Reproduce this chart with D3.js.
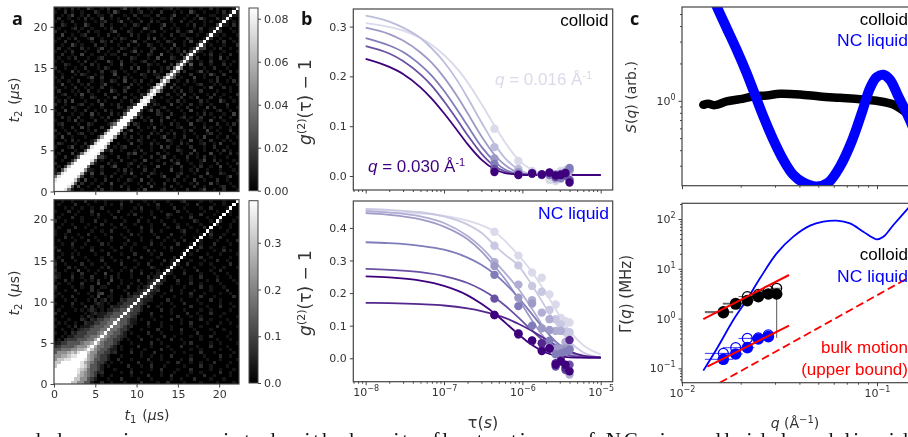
<!DOCTYPE html>
<html lang="en">
<head>
<meta charset="UTF-8">
<title>Two-time correlation and dynamics</title>
<script src="https://d3js.org/d3.v7.min.js"></script>
<style>
    html, body { margin: 0; padding: 0; background: #fff; overflow: hidden; }
    svg { display: block; filter: blur(0.45px); }
    .tick text { font: 11px "DejaVu Sans", sans-serif; fill: #333; }
    .tick line, .domain { stroke: #444; }
    .label { font: 14px "DejaVu Sans", sans-serif; fill: #333; }
    .note { font: 17px "Liberation Sans", sans-serif; }
    .tag { font: bold 18px "Open Sans", sans-serif; fill: #111; }
    .frame { fill: none; stroke: #444; stroke-width: 1.2; }
</style>
</head>
<body>
<svg width="908" height="437"></svg>
<script>
// ---- panel a: colour bars and ticks ----
const axisTicksUs = [0, 5, 10, 15, 20];
const cbarTicksTop = [0, 0.02, 0.04, 0.06, 0.08];
const cbarLabelsTop = ["0.00", "0.02", "0.04", "0.06", "0.08"];
const cbarTicksBottom = [0, 0.1, 0.2, 0.3];
const cbarLabelsBottom = ["0.0", "0.1", "0.2", "0.3"];
const cbarMaxTop = 0.085;
const cbarMaxBottom = 0.39;

// Off-diagonal speckle, levels 0-9 of the colour bar, row 0 = top of the map.
// Hand estimate of the texture: single cells are too blurred to read exactly.
const speckleTop = [
"01010201003100102000130102001010011201000100100201000010",
"10020100100021001031000101200100200010100310010001020100",
"00101300102001100200010020011002000130001002000110010001",
"02001001020100300101002001000100110200010010310002001000",
"10100200010010120001300100200201000100200100010100020010",
"00210010031000200100010021001000130010001020010003001020",
"01000120100100010200100100031000200101000010200100100100",
"20010001002011000130002100100120010002001300100010200010",
"00300100120001002001000201001000100200110001002001010001",
"01001020001300100010210001002030010010002100010200100100",
"10020001000100210200100130010001002100010300100001020010",
"00100310100020010001002001002100100030010001200100010002",
"02001000201001300100210010000120010201000100030010200100",
"10010200010002001002000130100200001001030200100100010001",
"00200100300100010110020001002100400100200010010200100200",
"01001020001001200001000210001003000210001002000100301000",
"10100001020010003100200100120010020001300100100200010010",
"00021000100201000100300010002101000200010400200100020100",
"20010010020001021000100203001000102010300100010020001000",
"01000301001000200120010010002030100010020001301000100201",
"00100010210010100030001000210011002001000200010310020000",
"10200100001300200001020100010002100130100030010002000100",
"01001002000100100210030010200100300001002010000102001020",
"00300100102000130001000201001002100020010001200010100001",
"10010020010100200100013000100200010301000100010300020100",
"02000101002001000310020001002001300010200100200001000100",
"00120010300100020001000100210100002001030010001020010002",
"10001000100210001030020010000200100100200103000200100100",
"01020300010002010000100201030010001002010000201000310010",
"20010001200100300102000100010021000300100200100100002000",
"00100210001000100002103000200100120001002001003020001001",
"10030010020010020100010020001302001000100300010001200100",
"01000100100301000201000300100002100200010001020100010030",
"00201002000100102000100010201000103000120100200010200100",
"10001030100020010010200100010300200010001002100300010001",
"01200001002100001300010021000100100201000300010002001020",
"00100200301000200100100002001030010001200010020100100100",
"20010010001020010002001300100010200100010200003001000200",
"01002001200100100310020001000201001020010010001200100010",
"10300100010002000100010200102000130010020001030001002001",
"00010201000130100200001002100010002100100300100200010100",
"02100010020001002001000300100201000100201000120010300010",
"10001300100100020010120001000100302001000200010020001000",
"00200010002010001300100010200100010002100030010001020100",
"01000301000200100100002130010002001000100201000300100201",
"10020010100100310002001000100200130010002001020010001000",
"00100200013000100100200010030001000201001000130020100010",
"20001001020010002010001200100100020013000100100002001002",
"01030010001000200130001002010003000100200010200100300100",
"10001200200100100001020100020010000300100102001000100010",
"00200010100300200010010300100210100001200010003000210001",
"01001002000100010200100010002000130002001000200100001300",
"10100100030010020001002100300100001020010030010002001000",
"00020010200100100300010001002010020001000102000301000100",
"20100003001002000100201000100300010200100020010000120010",
"01002100100010200100002001030000120010002000130010020001"
];

const speckleBottom = [
"00100100020010010000100200010010001000120000100100010000",
"01000020001000010100200001001002000100001002000010010010",
"00010100100100200000100010200001000020010000100200001000",
"10002001000200001002000100100100100002001000010001000100",
"00100010000102000100001020000100002100000100200010000100",
"01000200100001000020100000100020001000100200001000100001",
"20010000100020010000010002001000100010000021000100200010",
"00100100001000200100200010000100020001001000100002000100",
"01000020010010000010010000200100001002000100020000100100",
"10002000000100100200001000100200100000120001000100001000",
"10010001002000010000100201000010000200010000100200010010",
"00020100100010000200010000100002001000100010000100200000",
"01000010002001000100002000100100010010020000100001001002",
"00100200010000201000010010000200100002000100100020000100",
"10000100100100000100200100010000010200001000200100010000",
"02000010000200100010000100002010000100010002000010020100",
"00100101000010002000100020000100200000100100001000100001",
"01000200010000100100002000200001000020010000200100000100",
"10200010001000200010100010000100020100000100010002001000",
"20010000200100010000200001002000100001002000100100000200",
"10002010010000102000010010000210000100100010000010010001",
"20010003001001000100100200100001002000010002000100200000",
"11000100200010030001000100200100000100020000100010001000",
"21000200100200010201000100002000100010000100200001000100",
"10020100010102000300100002001000010002000100001002000010",
"01001000200003002000100100100010200001000200100000100001",
"20000100100200110001002001000100000100010000200100010000",
"10010020000201000200010000100002000200100010000100002000",
"01000001001002300100002000100010010000100200010000100100",
"10100200000103001100100010000200100010000100200010000020",
"00010010001020120100200001000100002000100001000200100000",
"10000200100012101000010020010000100100020000100000100100",
"00100100020201100200000100002001000010000200001000200010",
"01000010101210100001001000100000200100010000100100000100",
"20010000010121000100200001000200000100002001000200010000",
"00100000102100001000010020000100100002000100100000100001",
"10001000210200200100000100100010000200100000200100001000",
"01010010020100001002000010002000100000100200001000100100",
"10001020100000200000100200001000100100000100100002000001",
"00100100210100001000010000100002000100200010000100010000",
"10010201100000100020000100002000100000100002000010000100",
"00100120010200001000200001000100020010000100100200001000",
"01020110000100200100001000200001000200100000100001000100",
"10010200100001000001000100000200100000010200000100100001",
"20100100020000100200100002000100001000200001000200001000",
"10010000100100200000100100010000200100000100100000100100",
"10020100001000010020000200100020000010010000200010000010",
"00010001000020100000100000100100100200000100010000200100",
"10000100200100001002000100002000100000100200001000100001",
"00100001000010000100100002000100001002000100100020000100",
"01001000100002001000002000100200010000010000200100001000",
"20010100002000100010000100000100200001000200000100100010",
"10100001000100200000100200100000100010000100100000200100",
"00010020010000100100000100002000100200001000020010000100",
"10200000100200001000200001000100000100100020000100010000",
"01000100001000200100010000200001002000010000100001000010"
];

// Level of the band around the diagonal, one string per offset from the diagonal,
// read along the diagonal from t = 0 (the diagonal itself is white all the way).
const bandTop = [
"99999999999999999999999999999999999999999999999999999999",
"99999999999999999999999999887766555444333222211111111111",
"9999999998887766554433322111",
"88877654432111",
"4332211",
"1"
];
const bandBottom = [
"99999999999999999999999999999999999999999999999999999999",
"9999999997766554444333322222222111111",
"999999886554444444333222211111110",
"99998866554433333332222111",
"99987755433333332221111",
"77766543333332222111",
"776543332222221111",
"555433222211111",
"55433222111",
"33322111",
"32211",
"11"
];

// ---- panel b: correlation functions ----
const tauFitTop = [1e-8, 2e-8, 3e-8, 5e-8, 7e-8, 1e-7, 1.5e-7, 2e-7, 3e-7, 4.5e-7, 6e-7, 9e-7, 1.3e-6, 2e-6, 4e-6, 1e-5];
const fitTopColors = ["#dadaeb", "#bcbddc", "#9e9ac8", "#807dba", "#6a51a3", "#3f007d"];
const fitTop = [
    [.307, .299, .292, .277, .263, .243, .214, .188, .145, .099, .068, .032, .013, .004, .002, .002],
    [.322, .310, .298, .277, .256, .229, .190, .157, .108, .062, .036, .013, .004, .002, .002, .002],
    [.298, .285, .272, .248, .227, .198, .158, .126, .080, .041, .022, .007, .003, .002, .002, .002],
    [.277, .262, .249, .223, .201, .171, .131, .101, .059, .028, .013, .004, .002, .002, .002, .002],
    [.261, .246, .231, .204, .181, .150, .111, .082, .045, .019, .009, .003, .002, .002, .002, .002],
    [.235, .219, .205, .178, .155, .126, .090, .064, .033, .013, .006, .003, .002, .002, .002, .002]
];
const tauPoints = [4.4e-7, 8.9e-7, 1.33e-6, 1.77e-6, 2.22e-6, 2.66e-6, 3.1e-6, 3.55e-6, 4e-6];
const pointsTop = [
    [.095, .030, .010, .003, -.008, -.010, .010, .012, -.006],
    [.058, .014, .006, .002, .005, -.006, .000, .006, .010],
    [.035, .008, .004, .002, .006, -.004, -.005, .008, .012],
    [.024, .004, .005, .003, .002, .003, -.003, .004, .016],
    [.014, .003, .006, .003, .006, -.002, .004, .001, -.008],
    [.008, .002, .005, .003, .007, .001, .002, .006, -.013]
];

const tauFitBottom = [1e-8, 2e-8, 5e-8, 1e-7, 2e-7, 3e-7, 4.5e-7, 6e-7, 9e-7, 1.3e-6, 2e-6, 3e-6, 4e-6, 6e-6, 1e-5];
const fitBottomColors = ["#dadaeb", "#c9c8e2", "#b0aed4", "#9e9ac8", "#807dba", "#6a51a3", "#54278f", "#3f007d"];
const fitBottom = [
    [.450, .448, .444, .437, .422, .408, .387, .360, .315, .268, .200, .130, .085, .040, .012],
    [.458, .455, .448, .435, .410, .385, .345, .318, .283, .228, .155, .090, .052, .018, .003],
    [.452, .447, .435, .415, .375, .340, .295, .262, .212, .155, .085, .035, .015, .004, .002],
    [.445, .440, .426, .404, .365, .328, .280, .243, .180, .120, .057, .021, .009, .003, .002],
    [.356, .353, .345, .333, .309, .287, .257, .230, .185, .138, .083, .041, .021, .006, .002],
    [.274, .271, .264, .252, .231, .211, .185, .162, .124, .087, .047, .020, .009, .003, .002],
    [.170, .169, .166, .162, .153, .145, .134, .124, .105, .085, .058, .034, .021, .008, .003],
    [.251, .248, .238, .222, .193, .167, .136, .110, .073, .042, .017, .006, .003, .002, .002]
];
const pointsBottom = [
    [.388, .315, .263, .247, .196, .165, .124, .114, .110],
    [.345, .285, .222, .204, .148, .120, .104, .082, .080],
    [.295, .226, .178, .140, .120, .084, .084, .050, -.050],
    [.283, .186, .168, .092, .087, .030, .030, .030, .030],
    [.256, .160, .100, .046, .054, .012, .015, .020, .026],
    [.183, .077, .053, .025, .030, -.025, -.007, -.036, -.020],
    [.133, .073, .053, .046, .030, -.015, -.007, -.030, .056],
    [.133, .075, .055, .022, .030, -.020, -.010, -.020, -.040]
];
const bTicksTop = [0, 0.1, 0.2, 0.3];
const bTicksBottom = [0, 0.1, 0.2, 0.3, 0.4];
const tauDecades = [1e-8, 1e-7, 1e-6, 1e-5];

// ---- panel c: structure factor and rates ----
const qColloidS = [.01286, .01365, .01476, .01694, .01984, .02322, .02718, .03181, .04029, .05102, .06461, .08181, .0996, .1213, .142];
const sColloid = [.928, .946, .923, .988, 1.031, 1.084, 1.104, 1.139, 1.125, 1.084, 1.057, 1.031, 1.0, .934, .795];
const qLiquidS = [.01448, .01506, .01694, .01907, .02146, .02368, .02613, .02941, .03309, .03724, .04191, .04906, .0563, .06461, .07415, .08345, .09207, .0996, .1078, .1166, .1287, .142, .1536];
const sLiquid = [6.73, 5.77, 3.855, 2.578, 1.671, 1.118, .748, .4847, .3343, .253, .2195, .2037, .2195, .2954, .4699, .795, 1.265, 1.552, 1.621, 1.477, 1.084, .795, .602];

const qRateFit = [.01286, .01506, .01833, .02146, .02512, .03059, .03724, .04534, .05306, .06212, .07268, .08508, .0996, .1078, .1213, .1442, .16];
const rateFit = [.0901, .2453, .9375, 2.36, 6.44, 20.4, 44.2, 73.5, 88.4, 92.6, 81.8, 55.7, 39.1, 44.2, 75.9, 163.8, 260];

const qUpperRed = [.01286, .03538];
const rateUpperRed = [.98, 7.51];
const qLowerRed = [.01348, .03538];
const rateLowerRed = [.1084, .721];
const qDashed = [.01566, .16];
const rateDashed = [.0517, 8.2];

const qPoints = [.01629, .01885, .02163, .02463, .02772, .03059];
const rateColloidFilled = [1.315, 1.96, 2.29, 2.76, 3.12, 3.12];
const rateColloidOpen = [1.38, 2.03, 2.76, 3.06, 3.62, 4.06];
const qLiquidPoints = [.01629, .01885, .02163, .02463, .02772];
const rateLiquidFilled = [.152, .1945, .2606, .389, .4335];
const rateLiquidOpen = [.2, .26, .4, .41, .47];
const qErrLow = [.0131, .0162, .0195, .0225, .0255, .0285];
const qErrHigh = [.0183, .0205, .0235, .0265, .0295, .0325];
const lastColloidLow = 0.41;

const cTicksS = [1];
const cMinorS = [.2, .3, .4, .5, .6, .7, .8, .9, 2, 3, 4, 5];
const cTicksRate = [.1, 1, 10, 100];
const qDecades = [.01, .1];
const tagLetters = ["a", "b", "c"];

const svg = d3.select("svg");

// ---- helpers ----
function logMinors(decades) {
    const out = [];
    decades.forEach(d => { for (let k = 2; k < 10; k++) out.push(d * k); });
    return out;
}

function powerLabel(sel) {
    sel.each(function (d) {
        const t = d3.select(this).text("");
        t.append("tspan").text("10");
        t.append("tspan").attr("dy", -5).style("font-size", "8px")
            .text(String(Math.round(Math.log10(d))).replace("-", "\u2212"));
    });
}

function bottomAxis(x, y, ticks, minors) {
    if (minors) {
        svg.append("g").attr("transform", `translate(0,${y})`)
            .call(d3.axisBottom(x).tickValues(minors.filter(v => v >= x.domain()[0] && v <= x.domain()[1])).tickSize(2).tickFormat(""))
            .call(g => g.select(".domain").remove());
    }
    const g = svg.append("g").attr("transform", `translate(0,${y})`)
        .call(d3.axisBottom(x).tickValues(ticks).tickSize(3.5).tickSizeOuter(0));
    g.select(".domain").remove();
    return g;
}

function leftAxis(y, xPos, ticks, minors, format) {
    if (minors) {
        svg.append("g").attr("transform", `translate(${xPos},0)`)
            .call(d3.axisLeft(y).tickValues(minors.filter(v => v >= y.domain()[0] && v <= y.domain()[1])).tickSize(2).tickFormat(""))
            .call(g => g.select(".domain").remove());
    }
    const axis = d3.axisLeft(y).tickValues(ticks).tickSize(3.5).tickPadding(3);
    if (format) axis.tickFormat(format);
    const g = svg.append("g").attr("transform", `translate(${xPos},0)`).call(axis);
    g.select(".domain").remove();
    return g;
}

function frame(x0, y0, x1, y1) {
    svg.append("rect").attr("class", "frame")
        .attr("x", x0).attr("y", y0).attr("width", x1 - x0).attr("height", y1 - y0);
}

function vLabel(x, y, build, size) {
    const t = svg.append("text").attr("class", "label").attr("text-anchor", "middle")
        .attr("transform", `translate(${x},${y}) rotate(-90)`);
    if (size) t.style("font-size", size + "px");
    build(t);
}

function italic(t, s) { t.append("tspan").style("font-style", "italic").text(s); }
function sub(t, s) {
    t.append("tspan").attr("dy", 3).style("font-size", "10px").text(s);
    t.append("tspan").attr("dy", -3).text("\u200a");
}

// ---- panel a ----
function heatmap(speckle, band, top, bottom, cbarTop, cbarBottom, cbarMax, cticks, clabels, showX, gradId) {
    const nBins = 56;
    const left = 54, right = 239;
    const col = d3.scaleBand().domain(d3.range(nBins)).range([left, right]);
    const row = d3.scaleBand().domain(d3.range(nBins)).range([top, bottom]);
    const shade = d3.scaleLinear().domain([0, 9]).range(["#000", "#fff"]);

    const cells = [];
    for (let r = 0; r < nBins; r++) {
        const i2 = nBins - 1 - r;
        for (let i1 = 0; i1 < nBins; i1++) {
            // speckle reads a little dimmer than the band levels
            let level = 0.75 * (+(speckle[r] || "").charAt(i1) || 0);
            const k = Math.abs(i1 - i2);
            if (k < band.length) {
                const b = +band[k].charAt(Math.min(i1, i2)) || 0;
                level = Math.max(level, b);
            }
            cells.push({ r, i1, level });
        }
    }
    svg.append("g").attr("shape-rendering", "crispEdges")
        .selectAll("rect").data(cells).enter().append("rect")
        .attr("x", d => col(d.i1)).attr("y", d => row(d.r))
        .attr("width", col.bandwidth() + 0.2).attr("height", row.bandwidth() + 0.2)
        .attr("fill", d => shade(d.level));

    const x = d3.scaleLinear().domain([0, 22.4]).range([left, right]);
    const y = d3.scaleLinear().domain([0, 22.4]).range([bottom, top]);
    const xg = bottomAxis(x, bottom, axisTicksUs);
    if (!showX) xg.selectAll("text").remove();
    leftAxis(y, left, axisTicksUs);
    frame(left, top, right, bottom);

    // colour bar
    const defs = svg.append("defs").append("linearGradient").attr("id", gradId)
        .attr("x1", 0).attr("y1", 1).attr("x2", 0).attr("y2", 0);
    defs.append("stop").attr("offset", 0).attr("stop-color", "#000");
    defs.append("stop").attr("offset", 1).attr("stop-color", "#fff");
    const cb = d3.scaleLinear().domain([0, cbarMax]).range([cbarBottom, cbarTop]);
    svg.append("rect").attr("x", 249).attr("y", cbarTop).attr("width", 9).attr("height", cbarBottom - cbarTop)
        .attr("fill", `url(#${gradId})`).attr("stroke", "#444").attr("stroke-width", 1);
    const ca = svg.append("g").attr("transform", "translate(258,0)")
        .call(d3.axisRight(cb).tickValues(cticks).tickSize(3).tickPadding(3).tickFormat((d, i) => clabels[i]));
    ca.select(".domain").remove();
}

heatmap(speckleTop, bandTop, 7, 191.5, 8, 190.7, cbarMaxTop, cbarTicksTop, cbarLabelsTop, false, "cbarA");
heatmap(speckleBottom, bandBottom, 199.7, 384, 200.7, 383, cbarMaxBottom, cbarTicksBottom, cbarLabelsBottom, true, "cbarB");

[100, 293].forEach(yc => vLabel(19, yc, t => {
    italic(t, "t"); sub(t, "2"); t.append("tspan").text(" ("); italic(t, "\u03bc"); t.append("tspan").text("s)");
}));
const t1Label = svg.append("text").attr("class", "label").attr("text-anchor", "middle").attr("x", 147).attr("y", 420);
italic(t1Label, "t"); sub(t1Label, "1"); t1Label.append("tspan").text(" ("); italic(t1Label, "\u03bc"); t1Label.append("tspan").text("s)");

// ---- panel b ----
const tauLeft = 353.3, tauRight = 612.7;
const tauScale = d3.scaleLog().domain([Math.pow(10, -8.158), Math.pow(10, -4.847)]).range([tauLeft, tauRight]);

function corrPanel(yScale, yTicks, top, bottom, tauFit, fits, fitColors, points, showX) {
    const clipId = "clip" + top;
    svg.append("clipPath").attr("id", clipId).append("rect")
        .attr("x", tauLeft).attr("y", top).attr("width", tauRight - tauLeft).attr("height", bottom - top);
    const plot = svg.append("g").attr("clip-path", `url(#${clipId})`);
    const line = d3.line().x((d, i) => tauScale(tauFit[i])).y(d => yScale(d)).curve(d3.curveMonotoneX);
    fits.forEach((series, s) => {
        plot.append("path").attr("d", line(series)).attr("fill", "none")
            .attr("stroke", fitColors[s]).attr("stroke-width", 1.8);
    });
    points.forEach((series, s) => {
        plot.append("g").selectAll("circle").data(series).enter().append("circle")
            .attr("cx", (d, i) => tauScale(tauPoints[i])).attr("cy", d => yScale(d))
            .attr("r", 4.2).attr("fill", fitColors[s]);
    });
    const xg = bottomAxis(tauScale, bottom, tauDecades, logMinors([1e-9, 1e-8, 1e-7, 1e-6, 1e-5]));
    if (showX) xg.selectAll("text").call(powerLabel); else xg.selectAll("text").remove();
    leftAxis(yScale, tauLeft, yTicks, null, d3.format(".1f"));
    frame(tauLeft, top, tauRight, bottom);
}

const yCorrTop = d3.scaleLinear().domain([-0.0281, 0.3353]).range([190, 9]);
const yCorrBottom = d3.scaleLinear().domain([-0.0718, 0.4825]).range([381.7, 201]);
corrPanel(yCorrTop, bTicksTop, 9, 190, tauFitTop, fitTop, fitTopColors, pointsTop, false);
corrPanel(yCorrBottom, bTicksBottom, 201, 381.7, tauFitBottom, fitBottom, fitBottomColors, pointsBottom, true);

[102, 293].forEach(yc => vLabel(311, yc, t => {
    italic(t, "g");
    t.append("tspan").attr("dy", -6).style("font-size", "11px").text("(2)");
    t.append("tspan").attr("dy", 6).text("(\u03c4) \u2212 1");
}, 17));
const tauLabel = svg.append("text").attr("class", "label").attr("text-anchor", "middle").attr("x", 483).attr("y", 428).style("font-size", "16px");
tauLabel.append("tspan").text("\u03c4(");
italic(tauLabel, "s");
tauLabel.append("tspan").text(")");

function qNote(x, y, value, color) {
    const t = svg.append("text").attr("class", "note").attr("x", x).attr("y", y).attr("fill", color);
    italic(t, "q");
    t.append("tspan").text(` = ${value} \u00c5`);
    t.append("tspan").attr("dy", -6).style("font-size", "11px").text("-1");
}
qNote(495, 85, "0.016", "#dadaeb");
qNote(368, 171.7, "0.030", "#3f007d");

function note(x, y, s, color, anchor, len) {
    const t = svg.append("text").attr("class", "note").attr("x", x).attr("y", y)
        .attr("fill", color).attr("text-anchor", anchor || "end").text(s);
    if (len) t.attr("textLength", len).attr("lengthAdjust", "spacingAndGlyphs");
}
note(608.5, 26, "colloid", "#000");
note(538, 219, "NC liquid", "#0000ff", "start", 71);

// ---- panel c ----
const cLeft = 682, cRight = 940;
const qScale = d3.scaleLog().domain([0.01, Math.pow(10, -2 + (cRight - cLeft) / 195)]).range([cLeft, cRight]);

const yS = d3.scaleLog().domain([0.207, 5.7]).range([185.7, 7]);
const yRate = d3.scaleLog().domain([0.0515, 207]).range([382.7, 203.3]);

svg.append("clipPath").attr("id", "clipS").append("rect").attr("x", cLeft).attr("y", 7).attr("width", cRight - cLeft).attr("height", 178.7);
svg.append("clipPath").attr("id", "clipR").append("rect").attr("x", cLeft).attr("y", 203.3).attr("width", cRight - cLeft).attr("height", 179.4);

const plotS = svg.append("g").attr("clip-path", "url(#clipS)");
const lineS = d3.line().x(d => qScale(d[0])).y(d => yS(d[1])).curve(d3.curveCatmullRom.alpha(0.5));
plotS.append("path").attr("d", lineS(d3.zip(qColloidS, sColloid))).attr("fill", "none")
    .attr("stroke", "#000").attr("stroke-width", 8.5).attr("stroke-linecap", "round");
plotS.append("path").attr("d", lineS(d3.zip(qLiquidS, sLiquid))).attr("fill", "none")
    .attr("stroke", "#0000ff").attr("stroke-width", 10).attr("stroke-linecap", "round");

const qTicksAll = logMinors([.01, .1]);
bottomAxis(qScale, 185.7, qDecades, qTicksAll).selectAll("text").remove();
leftAxis(yS, cLeft, cTicksS, cMinorS).selectAll("text").call(powerLabel);
frame(cLeft, 7, cRight, 185.7);

const plotR = svg.append("g").attr("clip-path", "url(#clipR)");
const lineR = d3.line().x(d => qScale(d[0])).y(d => yRate(d[1]));
plotR.append("path").attr("d", lineR.curve(d3.curveCatmullRom.alpha(0.5))(d3.zip(qRateFit, rateFit)))
    .attr("fill", "none").attr("stroke", "#0000ff").attr("stroke-width", 1.8);
lineR.curve(d3.curveLinear);

// x error bars and the single y error bar
function errorBars(rates, color) {
    plotR.append("g").selectAll("line").data(rates).enter().append("line")
        .attr("x1", (d, i) => qScale(qErrLow[i])).attr("x2", (d, i) => qScale(qErrHigh[i]))
        .attr("y1", d => yRate(d)).attr("y2", d => yRate(d))
        .attr("stroke", color).attr("stroke-width", 0.8);
}
errorBars(rateColloidFilled, "#333");
errorBars(rateColloidOpen, "#333");
errorBars(rateLiquidFilled, "#0000ff");
errorBars(rateLiquidOpen, "#0000ff");
plotR.append("line").attr("x1", qScale(qPoints[5])).attr("x2", qScale(qPoints[5]))
    .attr("y1", yRate(rateColloidFilled[5])).attr("y2", yRate(lastColloidLow))
    .attr("stroke", "#444").attr("stroke-width", 0.9);

function ratePoints(qs, rates, color, filled) {
    plotR.append("g").selectAll("circle").data(rates).enter().append("circle")
        .attr("cx", (d, i) => qScale(qs[i])).attr("cy", d => yRate(d)).attr("r", filled ? 5.8 : 5)
        .attr("fill", filled ? color : "none").attr("stroke", color).attr("stroke-width", filled ? 0 : 1.2);
}
ratePoints(qPoints, rateColloidOpen, "#000", false);
ratePoints(qLiquidPoints, rateLiquidOpen, "#0000ff", false);
ratePoints(qPoints, rateColloidFilled, "#000", true);
ratePoints(qLiquidPoints, rateLiquidFilled, "#0000ff", true);

plotR.append("path").attr("d", lineR(d3.zip(qUpperRed, rateUpperRed))).attr("fill", "none").attr("stroke", "#ff0000").attr("stroke-width", 2);
plotR.append("path").attr("d", lineR(d3.zip(qLowerRed, rateLowerRed))).attr("fill", "none").attr("stroke", "#ff0000").attr("stroke-width", 2);
plotR.append("path").attr("d", lineR(d3.zip(qDashed, rateDashed))).attr("fill", "none").attr("stroke", "#ff0000")
    .attr("stroke-width", 1.8).attr("stroke-dasharray", "8,4");

bottomAxis(qScale, 382.7, qDecades, qTicksAll).selectAll("text").call(powerLabel);
leftAxis(yRate, cLeft, cTicksRate, logMinors([.01, .1, 1, 10, 100])).selectAll("text").call(powerLabel);
frame(cLeft, 203.3, cRight, 382.7);

vLabel(636, 97, t => { italic(t, "S"); t.append("tspan").text("("); italic(t, "q"); t.append("tspan").text(") (arb.)"); });
vLabel(631, 294, t => { t.append("tspan").text("\u0393("); italic(t, "q"); t.append("tspan").text(") (MHz)"); }, 15);
const qLabel = svg.append("text").attr("class", "label").attr("text-anchor", "middle").attr("x", 795).attr("y", 428);
italic(qLabel, "q");
qLabel.append("tspan").text(" (\u00c5");
qLabel.append("tspan").attr("dy", -5).style("font-size", "10px").text("\u22121");
qLabel.append("tspan").attr("dy", 5).text(")");

note(908, 25, "colloid", "#000");
note(837, 46, "NC liquid", "#0000ff", "start", 71);
note(908, 260, "colloid", "#000");
note(837, 282, "NC liquid", "#0000ff", "start", 71);
note(908, 353, "bulk motion", "#ff0000");
note(908, 375, "(upper bound)", "#ff0000");

// panel tags
[[12, 25], [301, 25], [630, 25]].forEach((p, i) => {
    svg.append("text").attr("class", "tag").attr("x", p[0]).attr("y", p[1]).text(tagLetters[i]);
});

// top of the next text line of the page, cut by the crop
svg.append("text").attr("x", 18).attr("y", 447).attr("textLength", 890).attr("lengthAdjust", "spacing")
    .style("font", "21px 'Liberation Serif', serif").attr("fill", "#111")
    .text("ed dynamics associated with density fluctuations of NCs in colloidal and liquid");
</script>
</body>
</html>
